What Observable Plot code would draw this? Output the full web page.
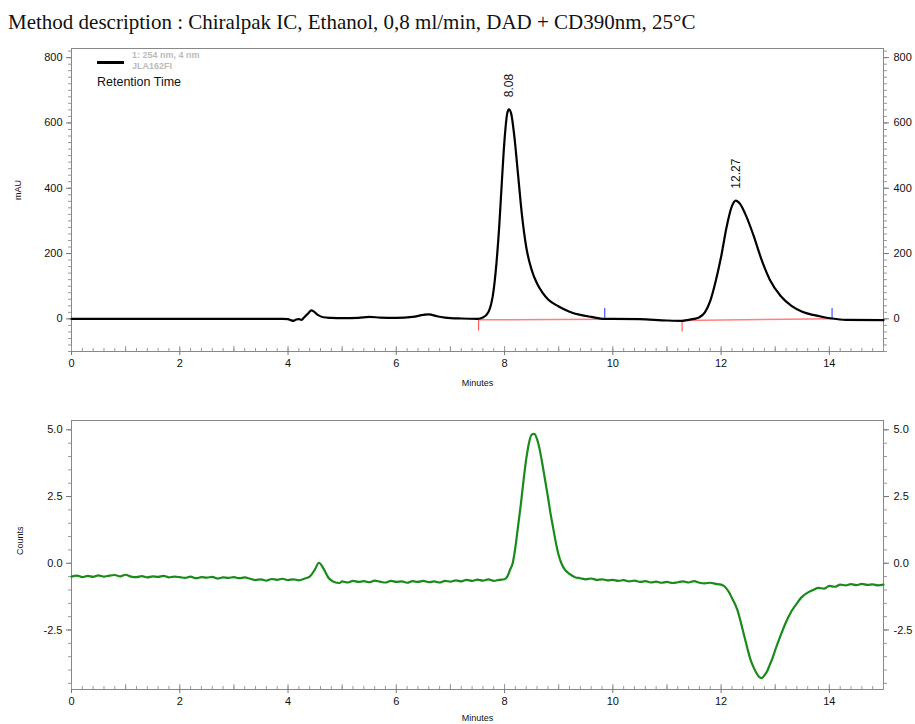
<!DOCTYPE html>
<html><head><meta charset="utf-8">
<script src="https://cdn.jsdelivr.net/npm/d3@7"></script>
<script src="https://cdn.jsdelivr.net/npm/@observablehq/plot@0.6"></script>
<style>
body{margin:0;background:#fff;}
#wrap{position:relative;width:915px;}
#title{height:40px;font-family:"Liberation Serif","Times New Roman",serif;font-size:21px;padding-left:8px;line-height:44px;white-space:nowrap;color:#111;}
#toppanel svg,#bottompanel svg{display:block;}
.lg{position:absolute;font-family:"Liberation Sans",Arial,sans-serif;z-index:5;}
</style></head><body>
<div id="wrap">
<div id="title">Method description : Chiralpak IC, Ethanol, 0,8 ml/min, DAD + CD390nm, 25°C</div>
<div id="toppanel"></div>
<div id="bottompanel"></div>
<div class="lg" style="left:97px;top:61px;width:27px;height:2.5px;background:#000"></div>
<div class="lg" style="left:132px;top:50px;font-size:9px;font-weight:bold;color:#bbb;line-height:11px">1: 254 nm, 4 nm<br>JLA162FI</div>
<div class="lg" style="left:97px;top:75px;font-size:12.5px;color:#111">Retention Time</div>
</div>
<script>
// UV trace (254 nm), minutes / mAU
const uvTime = [0,1,2,3,3.9,4.0,4.05,4.1,4.15,4.2,4.25,4.3,4.38,4.43,4.48,4.55,4.65,4.8,5.0,5.3,5.5,5.7,6.0,6.3,6.5,6.6,6.75,6.9,7.2,7.5,7.6,7.7,7.8,7.9,7.95,8.0,8.05,8.08,8.12,8.18,8.25,8.32,8.4,8.5,8.6,8.7,8.8,9.0,9.2,9.4,9.6,9.85,10.0,10.5,11.0,11.28,11.4,11.5,11.6,11.7,11.8,11.9,12.0,12.1,12.2,12.27,12.35,12.45,12.6,12.75,12.9,13.1,13.3,13.5,13.7,13.9,14.05,14.3,15.0];
const uvAbs  = [0,0,0,0,0,-1,-4,-6,-2,-1,-3,5,18,26,22,12,5,3,2,3,6,4,3,6,12,14,8,4,1,0,4,20,90,280,420,550,630,642,630,560,440,320,220,150,108,80,60,38,22,12,6,0,0,-1,-5,-6,-3,0,5,20,55,115,190,280,345,362,352,320,255,180,120,70,40,22,12,5,1,-3,-4];
// CD trace (390 nm), minutes / counts
const cdTime = [0.0,0.1,0.2,0.3,0.4,0.5,0.6,0.7,0.8,0.9,1.0,1.1,1.2,1.3,1.4,1.5,1.6,1.7,1.8,1.9,2.0,2.1,2.2,2.3,2.4,2.5,2.6,2.7,2.8,2.9,3.0,3.1,3.2,3.3,3.4,3.5,3.6,3.7,3.8,3.9,4.0,4.1,4.2,4.3,4.4,4.5,4.57,4.65,4.75,4.85,4.95,5.0,5.1,5.2,5.3,5.4,5.5,5.6,5.7,5.8,5.9,6.0,6.1,6.2,6.3,6.4,6.5,6.6,6.7,6.8,6.9,7.0,7.1,7.2,7.3,7.4,7.5,7.6,7.7,7.8,7.9,8.0,8.05,8.1,8.15,8.2,8.25,8.3,8.35,8.4,8.45,8.5,8.55,8.6,8.65,8.7,8.75,8.8,8.85,8.9,8.95,9.0,9.05,9.1,9.2,9.3,9.4,9.5,9.6,9.7,9.8,9.9,10.0,10.1,10.2,10.3,10.4,10.5,10.6,10.7,10.8,10.9,11.0,11.1,11.2,11.3,11.4,11.5,11.6,11.7,11.8,11.9,12.0,12.05,12.1,12.15,12.2,12.25,12.3,12.35,12.4,12.45,12.5,12.55,12.6,12.65,12.7,12.75,12.8,12.85,12.9,12.95,13.0,13.1,13.2,13.3,13.4,13.5,13.6,13.7,13.8,13.9,14.0,14.1,14.2,14.3,14.4,14.5,14.6,14.7,14.8,14.9,15.0];
const cdCounts = [-0.50,-0.46,-0.52,-0.47,-0.51,-0.45,-0.50,-0.46,-0.44,-0.49,-0.43,-0.50,-0.52,-0.48,-0.53,-0.49,-0.51,-0.47,-0.53,-0.50,-0.52,-0.55,-0.50,-0.56,-0.52,-0.54,-0.51,-0.57,-0.53,-0.55,-0.52,-0.56,-0.53,-0.58,-0.63,-0.60,-0.65,-0.59,-0.62,-0.58,-0.63,-0.60,-0.64,-0.58,-0.50,-0.22,0.02,-0.18,-0.55,-0.70,-0.74,-0.68,-0.72,-0.66,-0.70,-0.67,-0.71,-0.65,-0.69,-0.72,-0.66,-0.70,-0.68,-0.73,-0.67,-0.70,-0.66,-0.71,-0.68,-0.72,-0.66,-0.69,-0.64,-0.68,-0.62,-0.66,-0.61,-0.65,-0.60,-0.66,-0.62,-0.60,-0.50,-0.25,0.0,0.6,1.4,2.2,3.1,3.9,4.5,4.82,4.85,4.65,4.25,3.7,3.1,2.5,1.85,1.3,0.75,0.30,0.00,-0.20,-0.40,-0.52,-0.56,-0.60,-0.57,-0.62,-0.60,-0.64,-0.62,-0.66,-0.63,-0.68,-0.65,-0.70,-0.67,-0.72,-0.69,-0.73,-0.70,-0.74,-0.71,-0.68,-0.72,-0.67,-0.73,-0.75,-0.73,-0.77,-0.80,-0.85,-0.95,-1.10,-1.30,-1.50,-1.75,-2.10,-2.50,-2.90,-3.30,-3.65,-3.90,-4.10,-4.25,-4.30,-4.20,-4.05,-3.80,-3.55,-3.25,-2.70,-2.20,-1.80,-1.50,-1.25,-1.10,-1.00,-0.92,-0.95,-0.85,-0.88,-0.80,-0.83,-0.78,-0.82,-0.77,-0.81,-0.79,-0.83,-0.80];
// peak annotations
const peakTimes = [8.08, 12.27];
const peakHeights = [642, 362];
const peakLabels = ["8.08", "12.27"];
// integration baselines
const intStart = [7.52, 11.28];
const intStartY = [-3, -5];
const intStartLow = [-38, -40];
const intEnd = [9.85, 14.05];
const intEndY = [-1, 0];
const intEndHigh = [32, 32];
// ticks
const minuteTicks = [0, 2, 4, 6, 8, 10, 12, 14];
const uvTicks = [0, 200, 400, 600, 800];
const cdTicks = [-2.5, 0, 2.5, 5];

const uv = uvTime.map((t, i) => ({t, v: uvAbs[i]}));
const cd = cdTime.map((t, i) => ({t, v: cdCounts[i]}));
const peaks = peakTimes.map((t, i) => ({t, v: peakHeights[i], label: peakLabels[i]}));
const ints = intStart.map((s, i) => ({s, sy: intStartY[i], lo: intStartLow[i], e: intEnd[i], ey: intEndY[i], hi: intEndHigh[i]}));
const xMinor = d3.range(0, 15.001, 0.2).map(v => +v.toFixed(1));
const xInt = d3.range(0, 16, 1);

const axisFont = "'Liberation Sans Narrow','Arial Narrow','Liberation Sans',sans-serif";
const labFont = "'Liberation Sans',Arial,sans-serif";

function panel({data, color, width, yDomain, yTicks, yMinor, yFmt, height, mt, mb, ylabel, ylDx, minDy, extra}) {
  return Plot.plot({
    width: 915, height, marginLeft: 71, marginRight: 32, marginTop: mt, marginBottom: mb,
    style: {fontFamily: axisFont, fontSize: "11px", color: "#111", background: "#fff", overflow: "visible"},
    x: {domain: [0, 15]},
    y: {domain: yDomain},
    marks: [
      Plot.frame({stroke: "#888"}),
      Plot.axisX({ticks: xMinor, tickSize: 3, dy: -3, tickFormat: () => "", label: null, stroke: "#999"}),
      Plot.axisX({ticks: xInt, tickSize: 5, dy: -5, tickFormat: () => "", label: null, stroke: "#999"}),
      Plot.axisX({ticks: minuteTicks, tickSize: 4, tickPadding: 4, tickFormat: d => String(d), label: null, stroke: "#777"}),
      Plot.axisY({ticks: yMinor, tickSize: 3, tickFormat: () => "", label: null, stroke: "#999"}),
      Plot.axisY({anchor: "right", ticks: yMinor, tickSize: 3, tickFormat: () => "", label: null, stroke: "#999"}),
      Plot.axisY({ticks: yTicks, tickSize: 5, tickPadding: 4, tickFormat: yFmt, label: null, stroke: "#777"}),
      Plot.axisY({anchor: "right", ticks: yTicks, tickSize: 5, tickPadding: 5, tickFormat: yFmt, label: null, stroke: "#777"}),
      Plot.text(["Minutes"], {frameAnchor: "bottom", dy: minDy, text: d => d, fontFamily: labFont, fontSize: 9, lineAnchor: "middle"}),
      Plot.text([ylabel], {frameAnchor: "left", dx: ylDx, text: d => d, rotate: -90, fontFamily: labFont, fontSize: 9}),
      ...(extra || []),
      Plot.line(data, {x: "t", y: "v", stroke: color, strokeWidth: width, curve: "monotone-x"})
    ]
  });
}

const uvChart = panel({
  data: uv, color: "#000", width: 2.2, yDomain: [-100, 828], yTicks: uvTicks,
  yMinor: d3.range(-100, 821, 20), yFmt: d => String(d), height: 355, mt: 8, mb: 44,
  ylabel: "mAU", ylDx: -53, minDy: 32,
  extra: [
    Plot.link(ints, {x1: "s", y1: "sy", x2: "e", y2: "ey", stroke: "#ff8080", strokeWidth: 1.5}),
    Plot.ruleX(ints, {x: "s", y1: "sy", y2: "lo", stroke: "#ff6060", strokeWidth: 1.2}),
    Plot.ruleX(ints, {x: "e", y1: "ey", y2: "hi", stroke: "#5050ff", strokeWidth: 1.2}),
    Plot.text(peaks, {x: "t", y: "v", text: "label", rotate: -90, textAnchor: "start", lineAnchor: "middle", dy: -12, fontFamily: labFont, fontSize: 12})
  ]
});
document.getElementById("toppanel").appendChild(uvChart);

const cdChart = panel({
  data: cd, color: "#1a8a1a", width: 2.2, yDomain: [-4.73, 5.35], yTicks: cdTicks,
  yMinor: d3.range(-4.5, 5.01, 0.5).map(v => +v.toFixed(1)), yFmt: d => d.toFixed(1), height: 329, mt: 25, mb: 35,
  ylabel: "Counts", ylDx: -51, minDy: 29
});
document.getElementById("bottompanel").appendChild(cdChart);
</script>
</body></html>
